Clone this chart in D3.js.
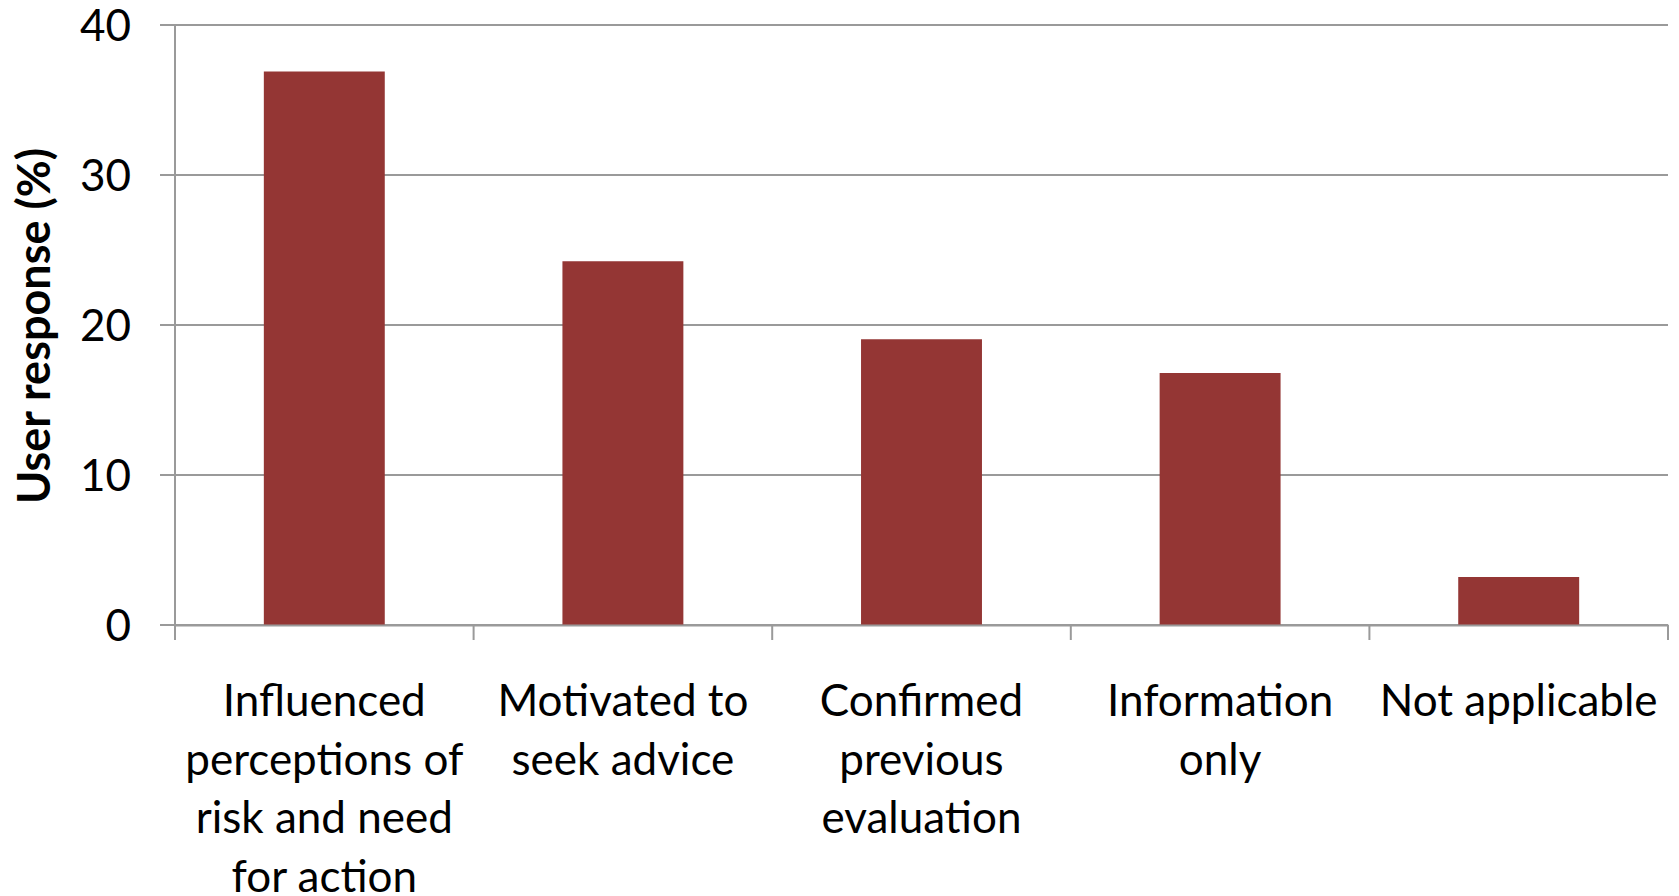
<!DOCTYPE html>
<html>
<head>
<meta charset="utf-8">
<script src="https://cdn.jsdelivr.net/npm/d3@7"></script>
<style>
  body { margin: 0; background: #fff; }
  text { font-family: Lato, "Open Sans", sans-serif; fill: #000; }
</style>
</head>
<body>
<script>
// chart data
var categories = ["Influenced perceptions of risk and need for action",
                  "Motivated to seek advice",
                  "Confirmed previous evaluation",
                  "Information only",
                  "Not applicable"];
var labelLines = [["Influenced", "perceptions of", "risk and need", "for action"],
                  ["Motivated to", "seek advice"],
                  ["Confirmed", "previous", "evaluation"],
                  ["Information", "only"],
                  ["Not applicable"]];
var responses = [36.9, 24.25, 19.05, 16.8, 3.2];
var yTicks = [0, 10, 20, 30, 40];

// size of the picture
var w = 1679;
var h = 896;
var start_w = 175;
var end_w = 1668;
var top_h = 25;
var bottom_h = 625;

var svg = d3.select("body")
            .append("svg")
            .attr("width", w)
            .attr("height", h);

// scales
var xScale = d3.scaleBand()
               .domain(categories)
               .range([start_w, end_w])
               .padding(0);

var yScale = d3.scaleLinear()
               .domain([0, 40])
               .range([bottom_h, top_h]);

var barWidth = xScale.bandwidth() * 0.405;

// horizontal gridlines
svg.append("g")
   .selectAll("line")
   .data(yTicks)
   .enter()
   .append("line")
   .attr("x1", start_w - 15)
   .attr("x2", end_w)
   .attr("y1", function(d) { return yScale(d); })
   .attr("y2", function(d) { return yScale(d); })
   .attr("stroke", "#9a9a9a")
   .attr("stroke-width", 2);

// y axis labels
var yAxis = d3.axisLeft(yScale)
              .tickValues(yTicks)
              .tickSize(0)
              .tickPadding(29);

var yG = svg.append("g")
   .attr("transform", "translate(" + (start_w - 15) + ",0)")
   .call(yAxis);
yG.select(".domain").remove();
yG.selectAll("text")
  .attr("font-size", 44)
  .attr("font-family", "Lato, sans-serif")
  .attr("dy", "0.35em");

// vertical axis line
svg.append("line")
   .attr("x1", start_w)
   .attr("x2", start_w)
   .attr("y1", top_h)
   .attr("y2", bottom_h + 15)
   .attr("stroke", "#9a9a9a")
   .attr("stroke-width", 2);

// bars
svg.selectAll("rect.bar")
   .data(responses)
   .enter()
   .append("rect")
   .attr("class", "bar")
   .attr("x", function(d, i) { return xScale(categories[i]) + (xScale.bandwidth() - barWidth) / 2; })
   .attr("y", function(d) { return yScale(d); })
   .attr("width", barWidth)
   .attr("height", function(d) { return yScale(0) - yScale(d); })
   .attr("fill", "#943634");

// x axis
var xAxis = d3.axisBottom(xScale)
              .tickSizeInner(0)
              .tickSizeOuter(0)
              .tickFormat("");

var xG = svg.append("g")
   .attr("transform", "translate(0," + bottom_h + ")")
   .call(xAxis);
xG.select(".domain").attr("stroke", "#9a9a9a").attr("stroke-width", 2);

// category boundary ticks
var boundaries = categories.map(function(c) { return xScale(c); }).concat([end_w]);
svg.append("g")
   .selectAll("line")
   .data(boundaries)
   .enter()
   .append("line")
   .attr("x1", function(d) { return d; })
   .attr("x2", function(d) { return d; })
   .attr("y1", bottom_h)
   .attr("y2", bottom_h + 15)
   .attr("stroke", "#9a9a9a")
   .attr("stroke-width", 2);

// category labels
var labels = svg.append("g")
   .selectAll("text")
   .data(labelLines)
   .enter()
   .append("text")
   .attr("text-anchor", "middle")
   .attr("font-size", 44)
   .attr("x", function(d, i) { return xScale(categories[i]) + xScale.bandwidth() / 2; })
   .attr("y", 716);

labels.selectAll("tspan")
   .data(function(d) { return d; })
   .enter()
   .append("tspan")
   .attr("x", function() { return d3.select(this.parentNode).attr("x"); })
   .attr("dy", function(d, i) { return i == 0 ? 0 : 58.5; })
   .text(function(d) { return d; });

// y axis title
svg.append("text")
   .attr("transform", "translate(50," + 326 + ") rotate(-90)")
   .attr("text-anchor", "middle")
   .attr("font-size", 45)
   .attr("font-weight", "bold")
   .text("User response (%)");
</script>
</body>
</html>
